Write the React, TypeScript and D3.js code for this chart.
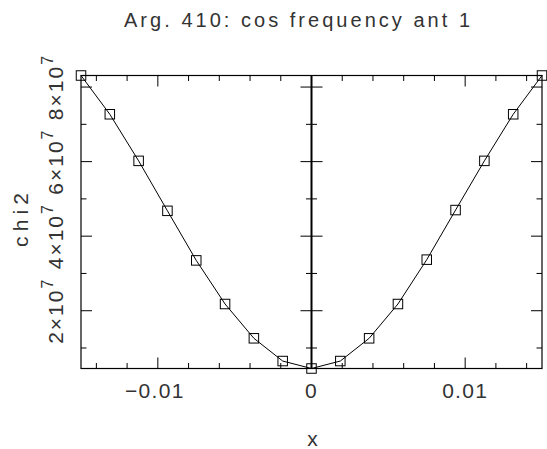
import React from "react";
import * as d3 from "d3";

const title = "Arg. 410: cos frequency ant 1";
const xLabel = "x";
const yLabel = "chi2";
const xValues = [
  -0.015, -0.013125, -0.01125, -0.009375, -0.0075, -0.005625, -0.00375, -0.001875, 0,
  0.001875, 0.00375, 0.005625, 0.0075, 0.009375, 0.01125, 0.013125, 0.015,
];
const chi2Values = [
  8.31e7, 7.27e7, 6.02e7, 4.68e7, 3.35e7, 2.18e7, 1.26e7, 0.65e7, 0.45e7,
  0.65e7, 1.26e7, 2.18e7, 3.37e7, 4.70e7, 6.02e7, 7.27e7, 8.31e7,
];
const xMajorTicks = [-0.01, 0, 0.01];
const xTickLabels = ["\u22120.01", "0", "0.01"];
const yMajorTicks = [2e7, 4e7, 6e7, 8e7];
const yTickMantissa = ["2", "4", "6", "8"];
const yTickExponent = "7";

const W = 547;
const H = 449;
const left = 81;
const right = 542;
const top = 75.5;
const bottom = 368.5;
const FONT = "'Liberation Sans', Arial, sans-serif";
const TXT = "#333";

export default function App() {
  const x = d3.scaleLinear().domain([d3.min(xValues)!, d3.max(xValues)!]).range([left, right]);
  const y = d3
    .scaleLinear()
    .domain([d3.min(chi2Values)!, d3.max(chi2Values)!])
    .range([bottom, top]);
  const xMinor = x.ticks(15).filter((t) => !xMajorTicks.some((m) => Math.abs(m - t) < 1e-9));
  const yMinor = y.ticks(8).filter((t) => !yMajorTicks.some((m) => Math.abs(m - t) < 1));
  const pts = xValues.map((v, i) => [x(v), y(chi2Values[i])] as [number, number]);
  const line = d3.line()(pts) || "";
  const x0 = x(0);
  const MAJ = 11;
  const MIN = 5.5;
  const sq = 9.5;

  return (
    <div style={{ position: "fixed", left: 0, top: 0 }}>
      <svg width={W} height={H} style={{ display: "block", background: "#fff" }}>
        <text x={297} y={27} fontFamily={FONT} fontSize={20} fill={TXT} textAnchor="middle"
          textLength={346} lengthAdjust="spacing">{title}</text>

        {/* frame */}
        <rect x={left} y={top} width={right - left} height={bottom - top} fill="none" stroke="#000" strokeWidth={1.2} />

        {/* bottom & top ticks */}
        {xMajorTicks.map((t) => (
          <g key={"xm" + t}>
            <line x1={x(t)} x2={x(t)} y1={bottom} y2={bottom - MAJ} stroke="#000" />
            <line x1={x(t)} x2={x(t)} y1={top} y2={top + MAJ} stroke="#000" />
          </g>
        ))}
        {xMinor.map((t) => (
          <g key={"xn" + t}>
            <line x1={x(t)} x2={x(t)} y1={bottom} y2={bottom - MIN} stroke="#000" />
            <line x1={x(t)} x2={x(t)} y1={top} y2={top + MIN} stroke="#000" />
          </g>
        ))}
        {/* left & right ticks */}
        {yMajorTicks.map((t) => (
          <g key={"ym" + t}>
            <line x1={left} x2={left + MAJ} y1={y(t)} y2={y(t)} stroke="#000" />
            <line x1={right} x2={right - MAJ} y1={y(t)} y2={y(t)} stroke="#000" />
            <line x1={x0 - MAJ} x2={x0 + MAJ} y1={y(t)} y2={y(t)} stroke="#000" />
          </g>
        ))}
        {yMinor.map((t) => (
          <g key={"yn" + t}>
            <line x1={left} x2={left + MIN} y1={y(t)} y2={y(t)} stroke="#000" />
            <line x1={right} x2={right - MIN} y1={y(t)} y2={y(t)} stroke="#000" />
            <line x1={x0 - MIN} x2={x0 + MIN} y1={y(t)} y2={y(t)} stroke="#000" />
          </g>
        ))}
        {/* zero axis */}
        <line x1={x0} x2={x0} y1={top} y2={bottom} stroke="#000" strokeWidth={2} />

        {/* x tick labels */}
        {xMajorTicks.map((t, i) => (
          <text key={"xl" + t} x={x(t) - (i === 0 ? 3 : 0)} y={398} fontFamily={FONT} fontSize={21} fill={TXT}
            textAnchor="middle" letterSpacing={1.3}>{xTickLabels[i]}</text>
        ))}
        {/* y tick labels */}
        {yMajorTicks.map((t, i) => (
          <text key={"yl" + t} transform={`translate(63,${y(t)}) rotate(-90)`} fontFamily={FONT} fontSize={21}
            fill={TXT} textAnchor="middle" letterSpacing={2}>
            {yTickMantissa[i] + "\u00d710"}
            <tspan dy={-10} fontSize={16}>{yTickExponent}</tspan>
          </text>
        ))}

        <text x={x0 + 1} y={446} fontFamily={FONT} fontSize={21} fill={TXT} textAnchor="middle">{xLabel}</text>
        <text transform={`translate(28,220) rotate(-90)`} fontFamily={FONT} fontSize={21} fill={TXT}
          textAnchor="middle" textLength={54} lengthAdjust="spacing">{yLabel}</text>

        {/* data */}
        <path d={line} fill="none" stroke="#000" strokeWidth={1} />
        {pts.map(([px, py], i) => (
          <rect key={"p" + i} x={px - sq / 2} y={py - sq / 2} width={sq} height={sq} fill="none" stroke="#000" strokeWidth={1} />
        ))}
      </svg>
    </div>
  );
}
